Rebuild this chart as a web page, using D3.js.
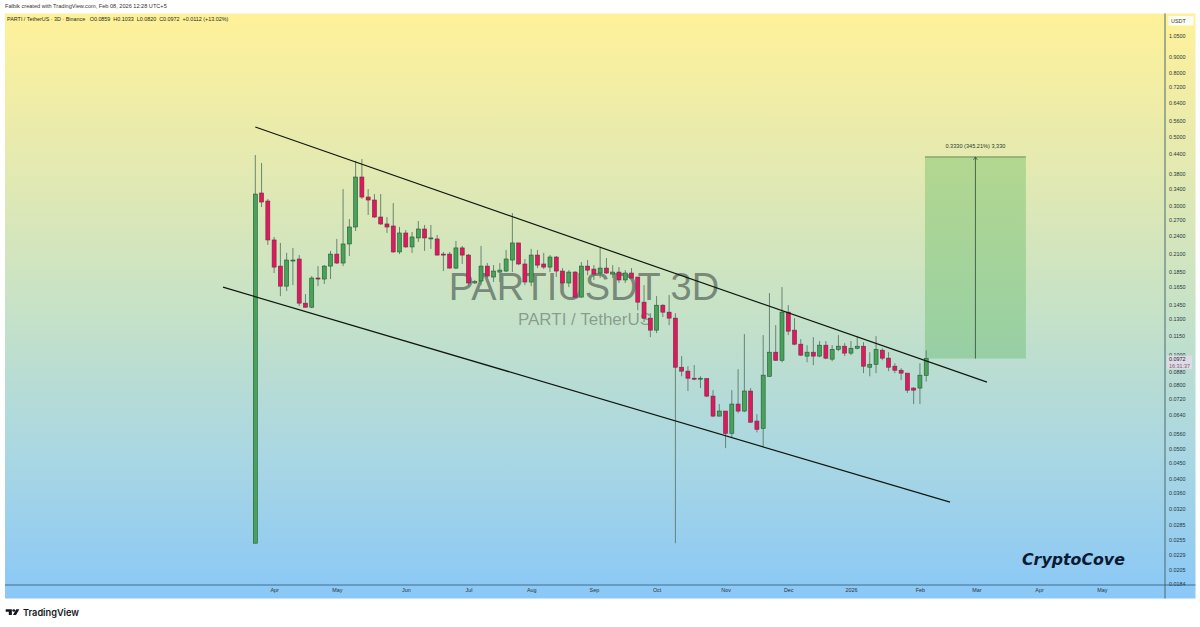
<!DOCTYPE html>
<html>
<head>
<meta charset="utf-8">
<title>PARTIUSDT 3D</title>
<script src="https://cdn.jsdelivr.net/npm/d3@7/dist/d3.min.js"></script>
<style>
  html, body { margin: 0; padding: 0; background: #fff; }
  svg { display: block; font-family: "Liberation Sans", Arial, sans-serif; }
</style>
</head>
<body>
<svg id="chart" width="1200" height="627"></svg>
<script>
// Three-day candles, oldest first
const opens = [.0249,.3297,.3108,.2332,.1923,.1659,.1996,.2026,.1463,.1420,.1761,.1748,.1923,.2101,.1967,.2264,.2566,.3710,.3201,.3131,.2762,.2624,.2585,.2135,.2455,.2215,.2367,.2528,.2358,.2349,.2101,.2101,.1895,.2199,.2086,.1698,.1723,.1923,.1774,.1840,.1854,.2011,.2281,.1953,.1710,.2086,.1953,.1909,.2056,.1854,.1698,.1840,.1530,.1923,.1881,.1827,.1895,.1813,.1840,.1736,.1827,.1774,.1474,.1310,.1199,.1441,.1369,.1310,.0912,.0886,.0841,.0838,.0838,.0737,.0636,.0660,.0560,.0695,.0660,.0765,.0613,.0581,.0853,.1019,.0960,.1369,.1199,.1081,.0990,.1019,.0990,.1073,.0968,.1041,.1065,.1012,.1049,.1065,.0912,.0932,.1034,.0975,.0919,.0892,.0873,.0782,.0782,.0859];
const highs = [.4363,.4113,.3154,.2384,.2281,.2120,.2199,.2086,.1564,.1787,.1923,.1937,.2151,.2349,.3395,.2722,.4174,.4236,.3395,.3272,.3272,.2762,.3062,.2566,.2510,.2473,.2682,.2604,.2604,.2419,.2135,.2135,.2315,.2232,.2101,.1736,.2232,.1967,.1937,.1967,.2167,.2844,.2281,.2026,.2183,.2167,.2120,.2086,.2071,.1895,.1867,.1854,.1982,.2011,.1937,.2215,.2041,.1937,.1909,.1867,.1895,.1774,.1671,.1359,.1541,.1452,.1553,.1359,.0990,.0919,.0926,.0853,.0841,.0770,.0695,.0660,.0770,.0899,.1164,.0782,.0645,.1156,.1576,.1244,.1647,.1441,.1310,.1122,.1073,.1139,.1106,.1106,.1073,.1156,.1089,.1106,.1147,.1097,.1019,.1147,.1049,.1019,.0939,.0905,.0873,.0787,.0939,.1033];
const lows = [.0249,.2973,.2248,.1827,.1541,.1600,.1671,.1431,.1415,.1410,.1659,.1686,.1748,.1953,.1923,.2071,.2491,.3154,.2803,.2742,.2604,.2455,.2120,.2101,.2199,.2120,.2298,.2151,.2183,.2079,.1854,.1888,.1881,.1953,.1671,.1686,.1671,.1761,.1710,.1710,.1840,.1840,.1937,.1671,.1659,.1895,.1881,.1840,.1774,.1692,.1647,.1519,.1525,.1800,.1736,.1761,.1813,.1761,.1698,.1698,.1755,.1389,.1272,.1139,.1173,.1320,.1244,.0249,.0853,.0765,.0829,.0782,.0731,.0631,.0634,.0502,.0544,.0650,.0655,.0605,.0564,.0505,.0850,.0957,.0946,.1156,.1073,.0990,.0946,.0926,.0982,.0968,.0953,.1027,.0990,.0997,.1041,.0873,.0853,.0873,.0960,.0886,.0873,.0829,.0754,.0695,.0695,.0820];
const closes = [.3272,.3085,.2332,.1909,.1659,.2011,.2011,.1463,.1420,.1761,.1748,.1923,.2101,.1967,.2264,.2566,.3710,.3201,.3131,.2762,.2624,.2566,.2135,.2455,.2215,.2384,.2528,.2367,.2367,.2086,.2086,.1895,.2199,.2086,.1698,.1716,.1923,.1787,.1854,.1867,.2026,.2281,.1953,.1710,.2086,.1937,.1909,.2056,.1854,.1698,.1840,.1530,.1923,.1867,.1813,.1895,.1827,.1840,.1736,.1827,.1761,.1474,.1310,.1199,.1441,.1369,.1310,.0912,.0886,.0841,.0835,.0841,.0737,.0636,.0660,.0560,.0695,.0660,.0765,.0608,.0577,.0860,.1019,.0960,.1369,.1190,.1081,.0997,.1019,.0990,.1073,.0975,.1041,.1065,.1012,.1049,.1065,.0919,.0932,.1041,.0975,.0912,.0892,.0873,.0770,.0770,.0860,.0972];

// Price scale labels
const priceTicks = [1.05,.9,.8,.72,.64,.56,.5,.44,.38,.34,.3,.27,.24,.21,.185,.165,.145,.13,.115,.1,.088,.08,.072,.064,.056,.05,.045,.04,.036,.032,.0285,.0255,.0229,.0205,.0184];

// Time scale labels, placed on the bar that opens each month
const timeTickBars = [3,13,24,34,44,54,64,75,85,95,106,115,125,135];
const timeTickLabels = ["Apr","May","Jun","Jul","Aug","Sep","Oct","Nov","Dec","2026","Feb","Mar","Apr","May"];

// Falling channel drawn by hand: [bar, price] end points
const upperChannel = [[0,.5364],[116.7,.0817]];
const lowerChannel = [[-5.15,.1647],[110.8,.0337]];

// Long position projection
const projectionBars = [106.8,122.9];
const projectionPrices = [.0972,.4302];
const projectionLabel = "0.3330 (345.21%) 3,330";

const lastPrice = .0972;
const legendText = "PARTI / TetherUS · 3D · Binance   O0.0859  H0.1033  L0.0820  C0.0972  +0.0112 (+13.02%)";
const creditText = "Falbik created with TradingView.com, Feb 08, 2026 12:28 UTC+5";

const paneLeft = 5, paneRight = 1165, paneOuter = 1195.5, paneTop = 13.5, paneBottom = 585, stripBottom = 598.5;

const x = d3.scaleLinear().domain([0, 107]).range([255.3, 926.2]);
const y = d3.scaleLog().domain([.0184, 1.05]).range([584.2, 36]);

const svg = d3.select("#chart");

const grad = svg.append("defs").append("linearGradient")
  .attr("id", "paneFill").attr("x1", 0).attr("y1", 0).attr("x2", 0).attr("y2", 1);
[[0, "#fff199"], [.25, "#e5eab0"], [.5, "#c7e2c6"], [.75, "#aad7e2"], [1, "#8ac8f7"]].forEach(([o, c]) =>
  grad.append("stop").attr("offset", o).attr("stop-color", c));

svg.append("rect")
  .attr("x", paneLeft).attr("y", paneTop)
  .attr("width", paneOuter - paneLeft).attr("height", stripBottom - paneTop)
  .attr("fill", "url(#paneFill)");

// Symbol watermark sits under the candles
svg.append("text").attr("x", 584).attr("y", 300).attr("text-anchor", "middle")
  .attr("font-size", 38).attr("fill", "#2f3b38").attr("fill-opacity", .55)
  .text("PARTIUSDT 3D");
svg.append("text").attr("x", 584.5).attr("y", 325).attr("text-anchor", "middle")
  .attr("font-size", 17).attr("fill", "#2f3b38").attr("fill-opacity", .42)
  .text("PARTI / TetherUS");

// Projection box
const boxLeft = x(projectionBars[0]), boxRight = x(projectionBars[1]);
const boxTop = y(projectionPrices[1]), boxBottom = y(projectionPrices[0]);
const boxMid = (boxLeft + boxRight) / 2;
svg.append("rect").attr("x", boxLeft).attr("y", boxTop)
  .attr("width", boxRight - boxLeft).attr("height", boxBottom - boxTop)
  .attr("fill", "#4caf50").attr("fill-opacity", .33);
svg.append("line").attr("x1", boxLeft).attr("x2", boxRight).attr("y1", boxTop).attr("y2", boxTop)
  .attr("stroke", "#4a7a4c").attr("stroke-width", .8);
svg.append("line").attr("x1", boxMid).attr("x2", boxMid).attr("y1", boxBottom).attr("y2", boxTop)
  .attr("stroke", "#2e4a38").attr("stroke-width", .8);
svg.append("path")
  .attr("d", `M${boxMid - 2},${boxTop + 3}L${boxMid},${boxTop}L${boxMid + 2},${boxTop + 3}`)
  .attr("fill", "none").attr("stroke", "#2e4a38").attr("stroke-width", .7);
svg.append("text").attr("x", boxMid).attr("y", boxTop - 9).attr("text-anchor", "middle")
  .attr("font-size", 5.6).attr("fill", "#2c3a30").text(projectionLabel);

// Candles
const candles = opens.map((o, i) => ({ i, o, h: highs[i], l: lows[i], c: closes[i] }));
const marks = svg.append("g").selectAll("g").data(candles).join("g");
marks.append("line")
  .attr("x1", d => x(d.i)).attr("x2", d => x(d.i))
  .attr("y1", d => y(d.h)).attr("y2", d => y(d.l))
  .attr("stroke", "#5d7a68").attr("stroke-width", .9);
marks.append("rect")
  .attr("x", d => x(d.i) - 2)
  .attr("width", 4)
  .attr("y", d => y(Math.max(d.o, d.c)))
  .attr("height", d => Math.max(1, Math.abs(y(d.o) - y(d.c))))
  .attr("fill", d => d.c >= d.o ? "#4aa25a" : "#e0195f")
  .attr("stroke", d => d.c >= d.o ? "#1f5a34" : "#6f2a44")
  .attr("stroke-width", .6);

// Channel lines
const channel = d3.line().x(d => x(d[0])).y(d => y(d[1]));
[upperChannel, lowerChannel].forEach(pts =>
  svg.append("path").attr("d", channel(pts)).attr("fill", "none")
    .attr("stroke", "#10180f").attr("stroke-width", 1.2));

// Price and time scales
const yAxis = svg.append("g").attr("transform", `translate(${paneRight},0)`)
  .call(d3.axisRight(y).tickValues(priceTicks).tickSize(0).tickPadding(4).tickFormat(d3.format(".4f")));
const xAxis = svg.append("g").attr("transform", `translate(0,${paneBottom})`)
  .call(d3.axisBottom(x).tickValues(timeTickBars).tickSize(0).tickPadding(3.5)
    .tickFormat((d, i) => timeTickLabels[i]));
[yAxis, xAxis].forEach(a => {
  a.select(".domain").remove();
  a.selectAll("text").attr("font-size", 5.4).attr("font-family", "'Liberation Sans', Arial, sans-serif").attr("fill", "#27353f");
});

svg.append("line").attr("x1", paneRight).attr("x2", paneRight).attr("y1", paneTop).attr("y2", stripBottom)
  .attr("stroke", "#4a6a70").attr("stroke-width", 1);
svg.append("line").attr("x1", paneLeft).attr("x2", paneOuter).attr("y1", paneBottom).attr("y2", paneBottom)
  .attr("stroke", "#2f5670").attr("stroke-width", .8);

// Currency box and last-price tag on the scale
svg.append("rect").attr("x", 1168.5).attr("y", 16).attr("width", 25).attr("height", 9.5).attr("fill", "#fffef4");
svg.append("text").attr("x", 1171).attr("y", 23).attr("font-size", 5.4).attr("fill", "#333").text("USDT");
const tagY = y(lastPrice);
svg.append("rect").attr("x", 1167).attr("y", tagY - 3).attr("width", 25).attr("height", 13.5)
  .attr("fill", "#dfdbe6");
svg.append("text").attr("x", 1169).attr("y", tagY + 2.6).attr("font-size", 5.4).attr("fill", "#222").text(d3.format(".4f")(lastPrice));
svg.append("text").attr("x", 1169).attr("y", tagY + 9.3).attr("font-size", 5.4).attr("fill", "#7a5a70").text("16:31:37");

// Header lines
svg.append("text").attr("x", 5).attr("y", 8).attr("font-size", 5.6).attr("fill", "#333").text(creditText);
svg.append("text").attr("x", 7).attr("y", 21).attr("font-size", 5.4).attr("fill", "#2a2a20")
  .attr("xml:space", "preserve").style("white-space", "pre").text(legendText);

// Signature
svg.append("text").attr("x", 1022).attr("y", 565)
  .attr("font-family", "'DejaVu Sans', sans-serif").attr("font-size", 15.8)
  .attr("font-weight", "bold").attr("font-style", "italic").attr("fill", "#0b1a33").text("CryptoCove");

// TradingView wordmark
const logo = svg.append("g").attr("transform", "translate(5.7,609.2) scale(.88,.74)").attr("fill", "#131722");
logo.append("path").attr("d", "M0 0H7V8H3.5V3.4H0Z");
logo.append("circle").attr("cx", 9.2).attr("cy", 1.7).attr("r", 1.7);
logo.append("path").attr("d", "M12 0H15.5L11.8 8H8.2Z");
svg.append("text").attr("x", 23).attr("y", 616).attr("font-family", "Inter, sans-serif")
  .attr("font-size", 9.2).attr("font-weight", 600).attr("fill", "#131722").text("TradingView");
</script>
</body>
</html>
